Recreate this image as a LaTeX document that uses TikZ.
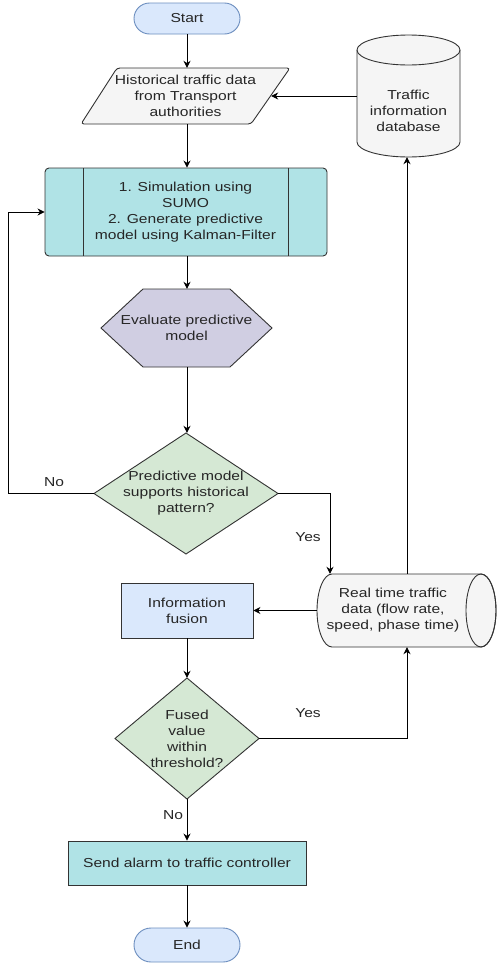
\documentclass[tikz,border=0pt]{standalone}
\usepackage{fontspec}
\setmainfont[FakeStretch=1.2]{Liberation Sans}
\usetikzlibrary{arrows.meta,calc}
\definecolor{bluefill}{HTML}{DAE8FC}
\definecolor{bluestroke}{HTML}{6C8EBF}
\definecolor{grayfill}{HTML}{F5F5F5}
\definecolor{tealfill}{HTML}{B0E3E6}
\definecolor{purplefill}{HTML}{D0CEE2}
\definecolor{greenfill}{HTML}{D5E8D4}
\definecolor{edge}{HTML}{333333}
\definecolor{txt}{HTML}{262626}
\tikzset{
  shp/.style={draw=edge, line width=0.9pt},
  lbl/.style={inner sep=0pt, align=center, text=txt, font=\fontsize{13}{16}\selectfont},
  frame/.style={inner sep=0pt, draw=none},
  arr/.style={draw=black, line width=0.9pt, -{Stealth[length=7pt,width=7pt]}},
  ln/.style={draw=black, line width=0.9pt},
}
\begin{document}
\begin{tikzpicture}[x=1pt,y=1pt]
\useasboundingbox (0,0) rectangle (497,-964);
\fill[white] (0,0) rectangle (497,-964);

% Start
\node[lbl, shp, fill=bluefill, draw=bluestroke, rounded corners=15.5pt, minimum width=106pt, minimum height=31pt] (start) at (187,-18.5) {Start};

% Historical data parallelogram
\draw[shp, fill=grayfill, rounded corners=3pt] (117,-68) -- (290,-68) -- (251,-124) -- (81,-124) -- cycle;
\node[lbl, frame, minimum width=171pt, minimum height=56pt] (hist) at (185.5,-96) {Historical traffic data\\from Transport\\authorities};

% Database cylinder
\draw[shp, fill=grayfill] (357,-50) -- (357,-142) arc[start angle=180, end angle=360, x radius=51.5, y radius=15] -- (460,-50) arc[start angle=0, end angle=180, x radius=51.5, y radius=15] -- cycle;
\draw[shp] (357,-50) arc[start angle=180, end angle=360, x radius=51.5, y radius=15];
\node[lbl, frame, minimum width=103pt, minimum height=122pt] (db) at (408.5,-96) {};
\node[lbl] (dbt) at (408.5,-111) {Traffic\\information\\database};

% Predefined process
\node[lbl, shp, fill=tealfill, rounded corners=4pt, minimum width=282pt, minimum height=88pt] (proc) at (186,-212) {};
\draw[shp] (83,-168) -- (83,-256) (288,-168) -- (288,-256);
\node[lbl] (proct) at (185.5,-212) {1. Simulation using\\SUMO\\2. Generate predictive\\model using Kalman-Filter};

% Hexagon
\draw[shp, fill=purplefill] (101,-328) -- (143,-289) -- (230,-289) -- (272,-328) -- (230,-367) -- (143,-367) -- cycle;
\node[lbl, frame, minimum width=171pt, minimum height=78pt] (hex) at (186.5,-328) {Evaluate predictive\\model};

% Decision 1
\draw[shp, fill=greenfill] (186,-433) -- (278,-493.5) -- (186,-554) -- (94,-493.5) -- cycle;
\node[lbl, frame, minimum width=184pt, minimum height=121pt] (dec1) at (186,-493.5) {Predictive model\\supports historical\\pattern?};

% Real time cylinder
\draw[shp, fill=grayfill] (332,-574) -- (481,-574) arc[start angle=90, end angle=-90, x radius=15, y radius=36.5] -- (332,-647) arc[start angle=270, end angle=90, x radius=15, y radius=36.5] -- cycle;
\draw[shp] (481,-610.5) ellipse[x radius=15, y radius=36.5];
\node[lbl, frame, minimum width=180pt, minimum height=73pt] (rt) at (407,-610.5) {};
\node[lbl] (rtt) at (393,-610.5) {Real time traffic\\data (flow rate,\\speed, phase time)};

% Information fusion
\node[lbl, shp, fill=bluefill, minimum width=132pt, minimum height=55pt] (fus) at (187,-610.5) {Information\\fusion};

% Decision 2
\draw[shp, fill=greenfill] (187,-678) -- (259,-738.5) -- (187,-799) -- (115,-738.5) -- cycle;
\node[lbl, frame, minimum width=144pt, minimum height=121pt] (dec2) at (187,-738.5) {Fused\\value\\within\\threshold?};

% Send alarm
\node[lbl, shp, fill=tealfill, minimum width=238pt, minimum height=44pt] (alarm) at (187,-863) {Send alarm to traffic controller};

% End
\node[lbl, shp, fill=bluefill, draw=bluestroke, rounded corners=17pt, minimum width=106pt, minimum height=34pt] (end) at (187,-945) {End};

% Connectors
\draw[arr] (start.south) -- (start.south |- hist.north);
\draw[arr] (hist.south -| start.south) -- (proc.north -| start.south);
\draw[arr] (db.west) -- (hist.east);
\draw[arr] (proc.south -| start.south) -- (hex.north -| start.south);
\draw[arr] (hex.south -| start.south) -- (dec1.north -| start.south);
\coordinate (loopx) at (8,-493.5);
\draw[arr] (dec1.west) -- (loopx) |- (proc.west);
\node[lbl] (no1) at (54,-482) {No};
\coordinate (yes1x) at (330,-493.5);
\draw[arr] (dec1.east) -- (yes1x) -- (yes1x |- rt.north);
\node[lbl] (yes1) at (308,-537) {Yes};
\draw[arr] (rt.north) -- (rt.north |- db.south);
\draw[arr] (rt.west) -- (fus.east);
\draw[arr] (fus.south) -- (dec2.north);
\draw[arr] (dec2.east) -| (rt.south);
\node[lbl] (yes2) at (308,-713) {Yes};
\draw[arr] (dec2.south) -- (alarm.north);
\node[lbl] (no2) at (173,-815) {No};
\draw[arr] (alarm.south) -- (end.north);
\end{tikzpicture}
\end{document}
